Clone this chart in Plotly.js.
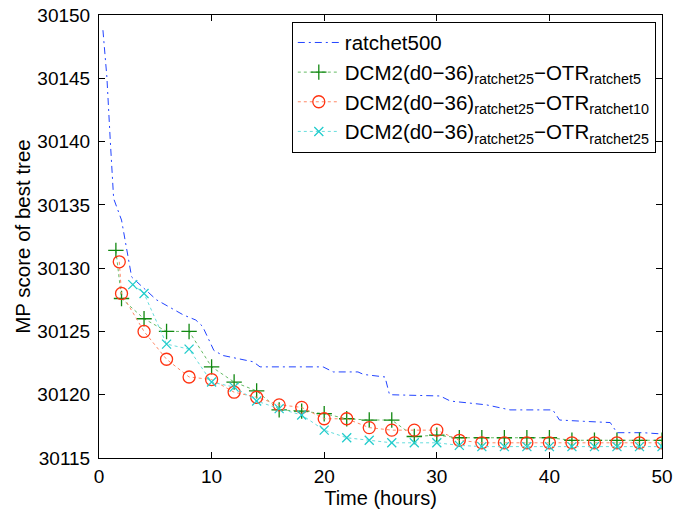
<!DOCTYPE html>
<html>
<head>
<meta charset="utf-8">
<script src="https://cdn.plot.ly/plotly-3.0.1.min.js"></script>
<style>html,body{margin:0;padding:0;background:#fff;}#chart{width:674px;height:510px;}</style>
</head>
<body>
<div id="chart"></div>
<script>
// ratchet500
const ratchetX = [0.35, 0.7, 1.0, 1.3, 2.0, 2.9, 5.1, 7.5, 8.6, 9.2, 10.2, 11.0, 13.7, 14.3, 19.9, 20.8, 23.0, 23.5, 25.4, 25.8, 30.3, 31.2, 34.4, 36.5, 40.3, 40.9, 43.0, 45.4, 46.0, 48.3, 50];
const ratchetY = [30148.8, 30145.1, 30140.1, 30135.5, 30133.8, 30129.3, 30127.5, 30126.3, 30125.9, 30125.4, 30123.5, 30123.1, 30122.6, 30122.2, 30122.2, 30121.8, 30121.8, 30121.6, 30121.4, 30120.0, 30119.9, 30119.5, 30119.2, 30118.8, 30118.8, 30118.0, 30117.9, 30117.8, 30117.0, 30117.0, 30116.9];

// DCM2 ... OTR ratchet5
const r5X = [1.5, 2, 4, 6, 8, 10, 12, 14, 16, 18, 20, 22, 24, 26, 28, 30, 32, 34, 36, 38, 40, 42, 44, 46, 48, 50];
const r5Y = [30131.4, 30127.6, 30126.0, 30125.0, 30125.0, 30122.2, 30121.0, 30120.3, 30118.8, 30118.7, 30118.5, 30118.1, 30118.0, 30118.0, 30116.7, 30116.8, 30116.6, 30116.6, 30116.6, 30116.6, 30116.6, 30116.4, 30116.4, 30116.4, 30116.4, 30116.4];

// DCM2 ... OTR ratchet10
const r10X = [1.8, 2, 4, 6, 8, 10, 12, 14, 16, 18, 20, 22, 24, 26, 28, 30, 32, 34, 36, 38, 40, 42, 44, 46, 48, 50];
const r10Y = [30130.5, 30128.0, 30125.0, 30122.8, 30121.4, 30121.2, 30120.2, 30119.8, 30119.2, 30119.0, 30118.1, 30118.1, 30117.4, 30117.2, 30117.2, 30117.2, 30116.4, 30116.2, 30116.2, 30116.2, 30116.2, 30116.2, 30116.2, 30116.2, 30116.2, 30116.2];

// DCM2 ... OTR ratchet25
const r25X = [3, 4, 6, 8, 10, 12, 14, 16, 18, 20, 22, 24, 26, 28, 30, 32, 34, 36, 38, 40, 42, 44, 46, 48, 50];
const r25Y = [30128.7, 30128.0, 30124.0, 30123.6, 30121.0, 30120.6, 30119.5, 30118.9, 30118.4, 30117.2, 30116.6, 30116.4, 30116.2, 30116.2, 30116.2, 30116.0, 30115.9, 30115.9, 30115.9, 30115.9, 30115.9, 30115.9, 30115.9, 30115.9, 30115.9];

const names = [
  'ratchet500',
  'DCM2(d0\u221236)<sub>ratchet25</sub>\u2212OTR<sub>ratchet5</sub>',
  'DCM2(d0\u221236)<sub>ratchet25</sub>\u2212OTR<sub>ratchet10</sub>',
  'DCM2(d0\u221236)<sub>ratchet25</sub>\u2212OTR<sub>ratchet25</sub>'
];
const xTicks = [0, 10, 20, 30, 40, 50];
const yTicks = [30115, 30120, 30125, 30130, 30135, 30140, 30145, 30150];
const yTickText = ['30115', '30120', '30125', '30130', '30135', '30140', '30145', '30150'];

const traces = [
  {x: ratchetX, y: ratchetY, name: names[0], mode: 'lines',
   line: {color: '#2244ff', width: 1, dash: '7px,4px,2px,4px'}},
  {x: r5X, y: r5Y, name: names[1], mode: 'lines+markers',
   line: {color: '#66bb66', width: 1, dash: 'dot'},
   marker: {symbol: 'cross-thin-open', size: 11, color: '#118811', line: {color: '#118811', width: 1.3}}},
  {x: r10X, y: r10Y, name: names[2], mode: 'lines+markers',
   line: {color: '#ff8866', width: 1, dash: 'dot'},
   marker: {symbol: 'circle-open', size: 12, color: '#ff3311', line: {color: '#ff3311', width: 1.3}}},
  {x: r25X, y: r25Y, name: names[3], mode: 'lines+markers',
   line: {color: '#66dddd', width: 1, dash: 'dot'},
   marker: {symbol: 'x-thin-open', size: 9, color: '#22cccc', line: {color: '#22cccc', width: 1.3}}}
];

const layout = {
  width: 674, height: 510,
  margin: {l: 99, r: 12, t: 15, b: 52},
  paper_bgcolor: '#fff', plot_bgcolor: '#fff',
  font: {family: 'Liberation Sans, Arial, sans-serif', size: 19, color: '#000'},
  showlegend: true,
  legend: {x: 0.989, y: 0.985, xanchor: 'right', yanchor: 'top',
    bgcolor: '#fff', bordercolor: '#000', borderwidth: 1, itemwidth: 42,
    font: {size: 20.5, color: '#000'}},
  xaxis: {range: [0, 50], tickvals: xTicks, ticks: 'inside', ticklen: 6, tickcolor: '#000',
    showgrid: false, zeroline: false, showline: true, linecolor: '#000', linewidth: 1,
    mirror: 'allticks', automargin: false, ticklabelstandoff: 1,
    tickfont: {size: 19},
    title: {text: 'Time (hours)', standoff: 0, font: {size: 20}}},
  yaxis: {range: [30115, 30150], tickvals: yTicks, ticktext: yTickText, ticks: 'inside', ticklen: 6, tickcolor: '#000',
    showgrid: false, zeroline: false, showline: true, linecolor: '#000', linewidth: 1,
    mirror: 'allticks', automargin: false, ticklabelstandoff: 4,
    tickfont: {size: 19},
    title: {text: 'MP score of best tree', standoff: 1, font: {size: 20.5}}}
};

Plotly.newPlot('chart', traces, layout, {displayModeBar: false, staticPlot: true});
</script>
</body>
</html>
